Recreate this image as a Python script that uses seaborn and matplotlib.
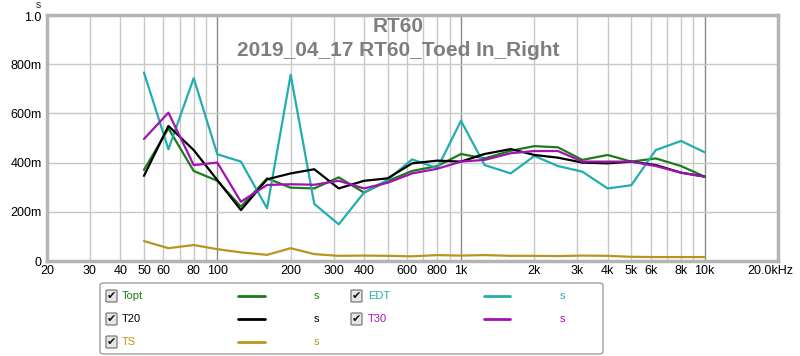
import numpy as np
import pandas as pd
import matplotlib
matplotlib.use("Agg")
import matplotlib.pyplot as plt
import matplotlib.transforms as mtransforms
from matplotlib.patches import FancyBboxPatch
from matplotlib.lines import Line2D
import seaborn as sns

# ---------------- data ----------------
freqs = [50, 63, 80, 100, 125, 160, 200, 250, 315, 400, 500, 630, 800,
         1000, 1250, 1600, 2000, 2500, 3150, 4000, 5000, 6300, 8000, 10000]
topt = [0.370, 0.539, 0.366, 0.326, 0.221, 0.336, 0.298, 0.295, 0.340, 0.278,
        0.325, 0.366, 0.386, 0.435, 0.417, 0.448, 0.467, 0.462, 0.411, 0.431,
        0.404, 0.417, 0.386, 0.343]
edt = [0.766, 0.454, 0.743, 0.434, 0.404, 0.214, 0.757, 0.232, 0.149, 0.278,
       0.330, 0.413, 0.377, 0.570, 0.390, 0.356, 0.427, 0.386, 0.363, 0.295,
       0.308, 0.451, 0.488, 0.442]
t20 = [0.346, 0.549, 0.451, 0.329, 0.207, 0.332, 0.356, 0.373, 0.295, 0.326,
       0.336, 0.397, 0.408, 0.404, 0.435, 0.455, 0.431, 0.420, 0.400, 0.397,
       0.404, 0.390, 0.359, 0.343]
t30 = [0.496, 0.603, 0.390, 0.400, 0.241, 0.309, 0.312, 0.310, 0.326, 0.295,
       0.318, 0.356, 0.375, 0.404, 0.411, 0.438, 0.447, 0.447, 0.404, 0.404,
       0.404, 0.386, 0.359, 0.343]
ts = [0.081, 0.052, 0.065, 0.048, 0.035, 0.025, 0.052, 0.028, 0.021, 0.022,
      0.021, 0.019, 0.024, 0.022, 0.024, 0.021, 0.021, 0.020, 0.022, 0.021,
      0.017, 0.016, 0.016, 0.016]

series_names = ["Topt", "EDT", "T20", "T30", "TS"]
series_colors = ["#1c7c1c", "#22adb0", "#000000", "#a212b2", "#b8961e"]

xtick_vals = [20, 30, 40, 50, 60, 80, 100, 200, 300, 400, 600, 800, 1000,
              2000, 3000, 4000, 5000, 6000, 8000, 10000, 20000]
xtick_labels = ["20", "30", "40", "50", "60", "80", "100", "200", "300", "400",
                "600", "800", "1k", "2k", "3k", "4k", "5k", "6k", "8k", "10k",
                "20.0kHz"]
ytick_vals = [0, 0.2, 0.4, 0.6, 0.8, 1.0]
ytick_labels = ["0", "200m", "400m", "600m", "800m", "1.0"]

title_lines = ["RT60", "2019_04_17 RT60_Toed In_Right"]

# ---------------- build frame ----------------
vals = {"Topt": topt, "EDT": edt, "T20": t20, "T30": t30, "TS": ts}
df = pd.concat([pd.DataFrame({"freq": freqs, "rt": vals[n], "series": n})
                for n in series_names], ignore_index=True)

sns.set_theme(style="white")
plt.rcParams["font.family"] = ["Liberation Sans", "DejaVu Sans"]

W, H = 800, 356
fig = plt.figure(figsize=(W / 100, H / 100), dpi=100)
fig.patch.set_facecolor("white")

def fx(x):
    return x / W

def fy(y):
    return 1 - y / H

L, R, T, B = 47, 778, 15, 261
ax = fig.add_axes([fx(L), fy(B), (R - L) / W, (B - T) / H])
ax.set_xscale("log")
ax.set_xlim(20, 20000)
ax.set_ylim(0, 1.0)

# grid
minor = []
for dec in [10, 100, 1000, 10000]:
    for m in range(1, 10):
        v = dec * m
        if 20 < v < 20000:
            minor.append(v)
for v in minor:
    if v in (100, 1000, 10000):
        ax.axvline(v, color="#8a8a8a", lw=1.0, zorder=1)
    else:
        ax.axvline(v, color="#c8c8c8", lw=1.0, zorder=1)
for v in [0.2, 0.4, 0.6, 0.8]:
    ax.axhline(v, color="#c8c8c8", lw=1.0, zorder=1)

sns.lineplot(data=df, x="freq", y="rt", hue="series", hue_order=series_names,
             palette=dict(zip(series_names, series_colors)), ax=ax,
             legend=False, lw=1.6, zorder=3)

ax.set_xticks(xtick_vals)
ax.set_xticklabels(xtick_labels)
ax.xaxis.set_minor_locator(matplotlib.ticker.NullLocator())
ax.set_yticks(ytick_vals)
ax.set_yticklabels(ytick_labels)
ax.tick_params(axis="both", length=0, labelsize=9, colors="#000000")
ax.tick_params(axis="x", pad=3)
ax.tick_params(axis="y", pad=4)
ax.set_xlabel("")
ax.set_ylabel("")
for lab in ax.get_xticklabels():
    if lab.get_text() == "20.0kHz":
        lab.set_transform(lab.get_transform() +
                          mtransforms.ScaledTranslation(-8 / 100, 0, fig.dpi_scale_trans))
for lab in ax.get_yticklabels():
    if lab.get_text() == "1.0":
        lab.set_transform(lab.get_transform() +
                          mtransforms.ScaledTranslation(0, -1.5 / 100, fig.dpi_scale_trans))

for s in ax.spines.values():
    s.set_color("#b4b4b4")
    s.set_linewidth(2.5)
    s.set_visible(True)

fig.text(fx(38), fy(0), "s", fontsize=7.5, ha="center", va="top")

ax.text(0.48, 1 - (26 - T) / (B - T), title_lines[0], transform=ax.transAxes,
        ha="center", va="center", fontsize=15, fontweight="bold", color="#7f7f7f",
        zorder=5)
ax.text(0.48, 1 - (50 - T) / (B - T), title_lines[1], transform=ax.transAxes,
        ha="center", va="center", fontsize=15, fontweight="bold", color="#7f7f7f",
        zorder=5)

# ---------------- legend panel ----------------
box = FancyBboxPatch((fx(100), fy(354)), (603 - 100) / W, (354 - 283) / H,
                     boxstyle="round,pad=0,rounding_size=0.006",
                     transform=fig.transFigure, facecolor="white",
                     edgecolor="#a0a0a0", lw=1.0)
fig.add_artist(box)

rows = [296, 319, 342]
layout = [("Topt", 0, 0), ("EDT", 1, 0), ("T20", 0, 1), ("T30", 1, 1), ("TS", 0, 2)]
col_x = [(106, 122, 238, 265, 316), (351, 368, 484, 510, 562)]
for name, c, r in layout:
    color = series_colors[series_names.index(name)]
    cx, lx, l0, l1, sx = col_x[c]
    yy = rows[r]
    cb = FancyBboxPatch((fx(cx), fy(yy + 6)), 11 / W, 12 / H,
                        boxstyle="round,pad=0,rounding_size=0.002",
                        transform=fig.transFigure, facecolor="#e6e6e6",
                        edgecolor="#6a6a6a", lw=0.8)
    fig.add_artist(cb)
    fig.text(fx(cx + 5.8), fy(yy), "\u2714", fontsize=8, ha="center", va="center",
             color="#101010", family="DejaVu Sans")
    fig.text(fx(lx), fy(yy), name, fontsize=8, ha="left", va="center", color=color)
    fig.add_artist(Line2D([fx(l0), fx(l1)], [fy(yy), fy(yy)], color=color, lw=2,
                          transform=fig.transFigure))
    fig.text(fx(sx), fy(yy), "s", fontsize=8, ha="center", va="center", color=color)

fig.savefig("out.png", dpi=100, facecolor="white")
